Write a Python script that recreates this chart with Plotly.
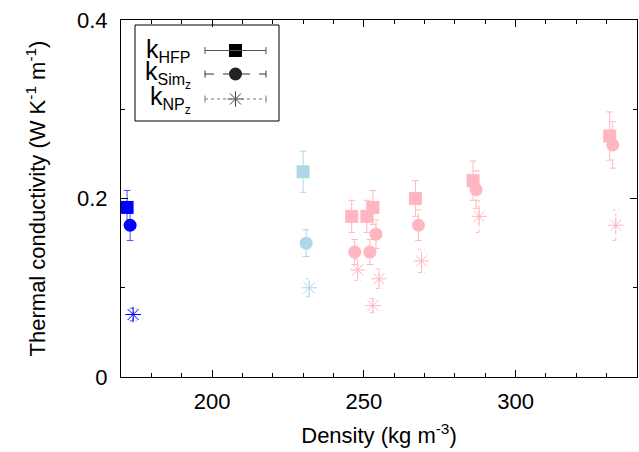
import plotly.graph_objects as go

# ---------------- data ----------------
point_colors = ["#0000ff", "#add8e6", "#ffb6c1", "#ffb6c1", "#ffb6c1", "#ffb6c1", "#ffb6c1", "#ffb6c1"]
errbar_colors = ["#4d4dff", "#add8e6", "#ffb6c1", "#ffb6c1", "#ffb6c1", "#ffb6c1", "#ffb6c1", "#ffb6c1"]

density_hfp = [172, 230, 246, 251, 253, 267, 286, 331]
k_hfp = [0.19, 0.23, 0.18, 0.18, 0.19, 0.20, 0.22, 0.27]
k_hfp_err = [0.019, 0.023, 0.018, 0.018, 0.019, 0.020, 0.022, 0.027]

density_sim = [173, 231, 247, 252, 254, 268, 287, 332]
k_sim = [0.17, 0.15, 0.14, 0.14, 0.16, 0.17, 0.21, 0.26]
k_sim_err = [0.017, 0.015, 0.014, 0.014, 0.016, 0.017, 0.021, 0.026]

density_np = [174, 232, 248, 253, 255, 269, 288, 333]
k_np = [0.07, 0.10, 0.12, 0.08, 0.11, 0.13, 0.18, 0.17]
k_np_err = [0.007, 0.010, 0.012, 0.008, 0.011, 0.013, 0.018, 0.017]

x_ticks = [200, 250, 300]
y_ticks = [0, 0.2, 0.4]
y_tick_labels = ["0", "0.2", "0.4"]

SUB = "<span style='font-size:16px'>%s</span>"
SUBSUB = "<span style='font-size:12px'>%s</span>"
series = [
    ("k<sub>" + SUB % "HFP" + "</sub>", density_hfp, k_hfp, k_hfp_err, "square", "solid", 13),
    ("k<sub>" + SUB % "Sim" + "<sub>" + SUBSUB % "z" + "</sub></sub>", density_sim, k_sim, k_sim_err, "circle", "dash", 13),
    ("k<sub>" + SUB % "NP" + "<sub>" + SUBSUB % "z" + "</sub></sub>", density_np, k_np, k_np_err, "asterisk-open", "dot", 13),
]

CAP = 1.1  # half width of error-bar caps in x data units

fig = go.Figure()

# error bars (drawn as line traces so they can be dashed / dotted)
for name, xs, ys, es, sym, dash, size in series:
    for x, y, e, c in zip(xs, ys, es, errbar_colors):
        ex = [x, x, None, x - CAP, x + CAP, None, x - CAP, x + CAP]
        ey = [y - e, y + e, None, y - e, y - e, None, y + e, y + e]
        fig.add_trace(go.Scatter(x=ex, y=ey, mode="lines",
                                 line=dict(color=c, width=1, dash=dash),
                                 showlegend=False, hoverinfo="skip"))

# markers
for name, xs, ys, es, sym, dash, size in series:
    if sym == "asterisk-open":
        marker = dict(symbol=sym, size=size, color=point_colors,
                      line=dict(color=point_colors, width=1))
    else:
        marker = dict(symbol=sym, size=size, color=point_colors, line=dict(width=0))
    fig.add_trace(go.Scatter(x=xs, y=ys, mode="markers", marker=marker,
                             showlegend=False, name=name))

# ---------------- hand-built key (gnuplot style: text left of sample) ----------------
def px2paper_x(px):
    return (px - 121) / 516.0

def px2paper_y(py):
    return (377 - py) / 357.0

rows_py = [50.5, 74, 99]
line_colors = ["#555555", "#333333", "#777777"]
key_marker_colors = ["black", "#222222", "#444444"]
shapes = [dict(type="rect", xref="paper", yref="paper",
               x0=px2paper_x(135), x1=px2paper_x(279),
               y0=px2paper_y(121), y1=px2paper_y(25),
               line=dict(color="black", width=1), fillcolor="white", layer="below")]
annotations = []
lx0, lx1, lxm = px2paper_x(205), px2paper_x(266), px2paper_x(235.5)
for (name, xs, ys, es, sym, dash, size), py, lc, mc in zip(series, rows_py, line_colors, key_marker_colors):
    yp = px2paper_y(py)
    cap = 3.5 / 357.0
    shapes.append(dict(type="line", xref="paper", yref="paper", x0=lx0, x1=lx1, y0=yp, y1=yp,
                       line=dict(color=lc, width=1, dash=dash)))
    for xc in (lx0, lx1):
        shapes.append(dict(type="line", xref="paper", yref="paper", x0=xc, x1=xc,
                           y0=yp - cap, y1=yp + cap, line=dict(color=lc, width=1)))
    annotations.append(dict(xref="paper", yref="paper", x=px2paper_x(193), y=yp,
                            xanchor="right", yanchor="middle", showarrow=False, text=name,
                            font=dict(size=25, color="black", family="Liberation Sans, Arial, sans-serif")))
    if sym == "asterisk-open":
        mk = dict(symbol=sym, size=size, color=mc, line=dict(color=mc, width=1))
    else:
        mk = dict(symbol=sym, size=size, color=mc, line=dict(width=0))
    fig.add_trace(go.Scatter(x=[lxm], y=[yp], xaxis="x2", yaxis="y2", mode="markers",
                             marker=mk, showlegend=False, hoverinfo="skip"))

fam = "Liberation Sans, Arial, sans-serif"
tick_font = dict(family=fam, size=22, color="black")
xtitle_font = dict(family=fam, size=22, color="black")
ytitle_font = dict(family=fam, size=22, color="black")

fig.update_layout(
    width=639, height=452,
    margin=dict(l=121, r=2, t=20, b=75),
    paper_bgcolor="white", plot_bgcolor="white",
    showlegend=False,
    font=tick_font,
    shapes=shapes,
    annotations=annotations,
    xaxis=dict(range=[170, 340], tickvals=x_ticks, ticks="inside", ticklen=7, tickcolor="black",
               showline=True, linecolor="black", linewidth=1, mirror="allticks",
               showgrid=False, zeroline=False, ticklabelstandoff=5, automargin=False,
               minor=dict(ticks="inside", dtick=10, tick0=170, ticklen=4, tickcolor="black", showgrid=False),
               title=dict(text="Density (kg m<sup>-3</sup>)", font=xtitle_font, standoff=14),
               tickfont=tick_font),
    yaxis=dict(range=[0, 0.4], tickvals=y_ticks, ticktext=y_tick_labels, ticks="inside", ticklen=7,
               tickcolor="black", showline=True, linecolor="black", linewidth=1, mirror="allticks",
               showgrid=False, zeroline=False, ticklabelstandoff=8, automargin=False,
               minor=dict(ticks="inside", dtick=0.1, ticklen=4, tickcolor="black", showgrid=False),
               title=dict(text="Thermal conductivity (W K<sup>-1</sup> m<sup>-1</sup>)", font=ytitle_font, standoff=25),
               tickfont=tick_font),
    xaxis2=dict(overlaying="x", range=[0, 1], visible=False),
    yaxis2=dict(overlaying="y", range=[0, 1], visible=False),
)

fig.write_html("out.html", config={"displayModeBar": False},
               post_script="document.body.style.margin='0';"
                           "document.documentElement.style.overflow='hidden';")
